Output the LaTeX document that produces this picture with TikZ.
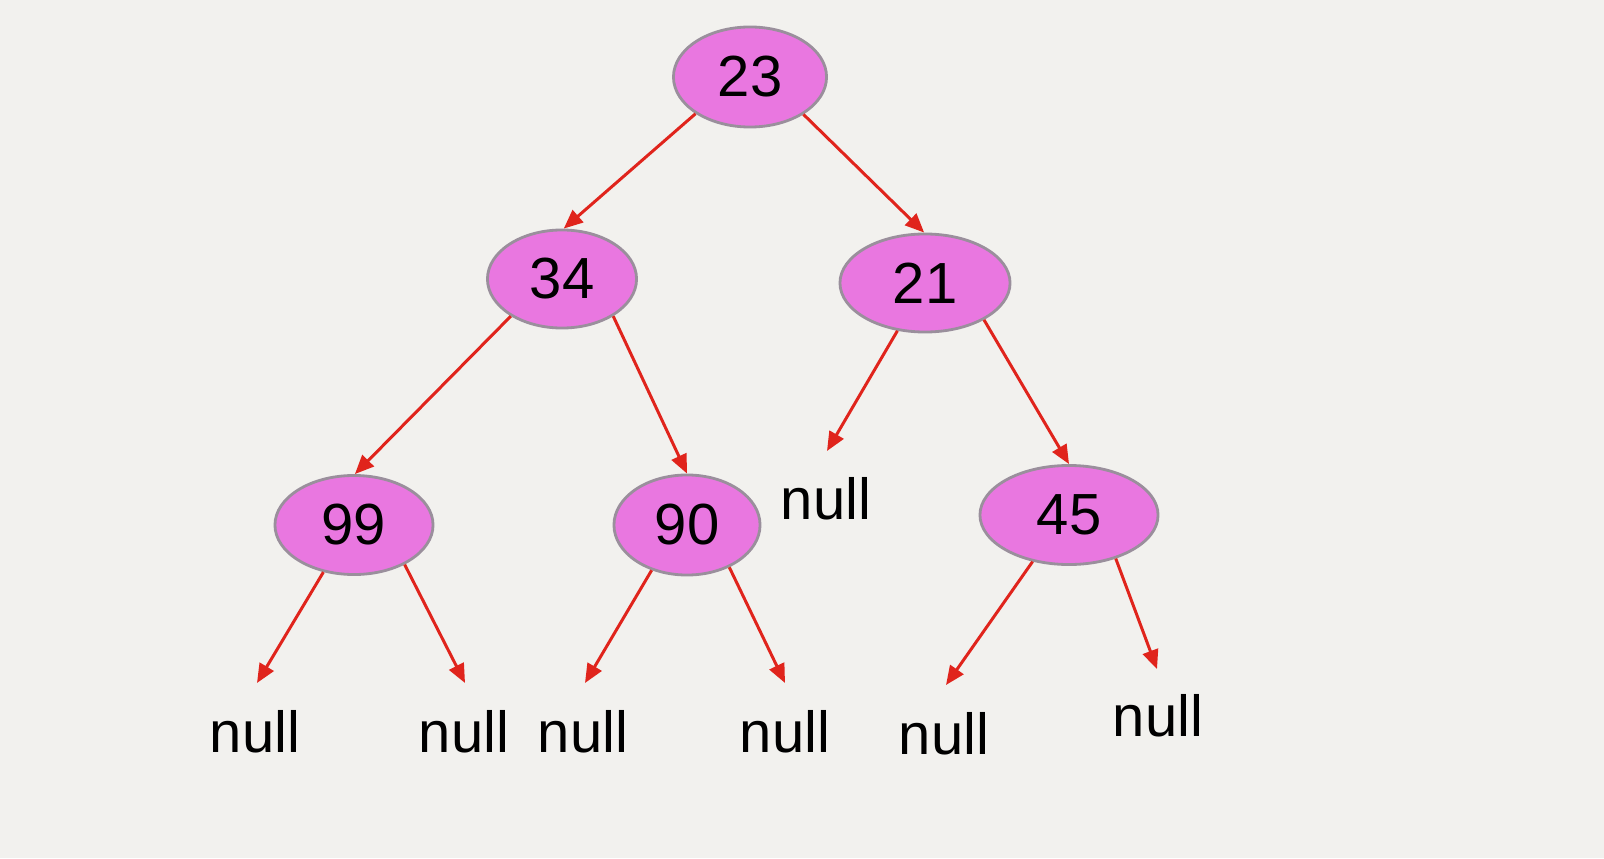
\documentclass[tikz,border=0pt]{standalone}
\usepackage{fontspec}
\setmainfont{Liberation Sans}
\usetikzlibrary{arrows.meta,shapes.geometric}
\usepackage{xcolor}
\definecolor{paperGray}{HTML}{F2F1EE}
\definecolor{nodeViolet}{HTML}{E977E0}
\definecolor{borderGray}{HTML}{9A8F9C}
\definecolor{edgeRed}{HTML}{E0241C}
\tikzset{
    treenode/.style={
        ellipse,
        draw=borderGray,
        thick,
        fill=nodeViolet,
        inner sep=0pt,
        font=\fontsize{16.5}{19}\selectfont
    },
    nulltext/.style={
        inner sep=0pt,
        font=\fontsize{16.5}{19}\selectfont
    },
    edge/.style={-{Triangle[length=1.9mm,width=1.6mm]},line width=0.85pt,draw=edgeRed}
}

\begin{document}
\begin{tikzpicture}[x=0.01cm,y=-0.01cm]
    \fill[paperGray] (0,0) rectangle (1604,858);

    % tree nodes
    \node[treenode, minimum width=1.53cm, minimum height=1.0cm] (n23) at (750,77) {23};
    \node[treenode, minimum width=1.49cm, minimum height=0.98cm] (n34) at (562,279) {34};
    \node[treenode, minimum width=1.70cm, minimum height=0.98cm] (n21) at (925,283) {21};
    \node[treenode, minimum width=1.58cm, minimum height=0.99cm] (n99) at (354,525) {99};
    \node[treenode, minimum width=1.46cm, minimum height=1.0cm] (n90) at (687,525) {90};
    \node[treenode, minimum width=1.78cm, minimum height=0.99cm] (n45) at (1069,515) {45};

    % null leaves
    \node[nulltext] (null21) at (826,499) {null};
    \node[nulltext] (null99a) at (255,732) {null};
    \node[nulltext] (null99b) at (464,732) {null};
    \node[nulltext] (null90a) at (583,732) {null};
    \node[nulltext] (null90b) at (785,732) {null};
    \node[nulltext] (null45a) at (944,734) {null};
    \node[nulltext] (null45b) at (1158,716) {null};

    % arrow tips
    \coordinate (t21) at (827,451);
    \coordinate (t99a) at (257,683);
    \coordinate (t99b) at (465,683);
    \coordinate (t90a) at (585,683);
    \coordinate (t90b) at (785,683);
    \coordinate (t45a) at (946,685);
    \coordinate (t45b) at (1157,669);

    \draw[edge] (n23.214) -- (n34.88);
    \draw[edge] (n23.325) -- (n21.91);
    \draw[edge] (n34.216) -- (n99.89);
    \draw[edge] (n34.324) -- (n90.90);
    \draw[edge] (n21.240) -- (t21);
    \draw[edge] (n21.328) -- (n45.90);
    \draw[edge] (n99.237) -- (t99a);
    \draw[edge] (n99.322) -- (t99b);
    \draw[edge] (n90.232) -- (t90a);
    \draw[edge] (n90.315) -- (t90b);
    \draw[edge] (n45.232) -- (t45a);
    \draw[edge] (n45.317) -- (t45b);
\end{tikzpicture}
\end{document}
